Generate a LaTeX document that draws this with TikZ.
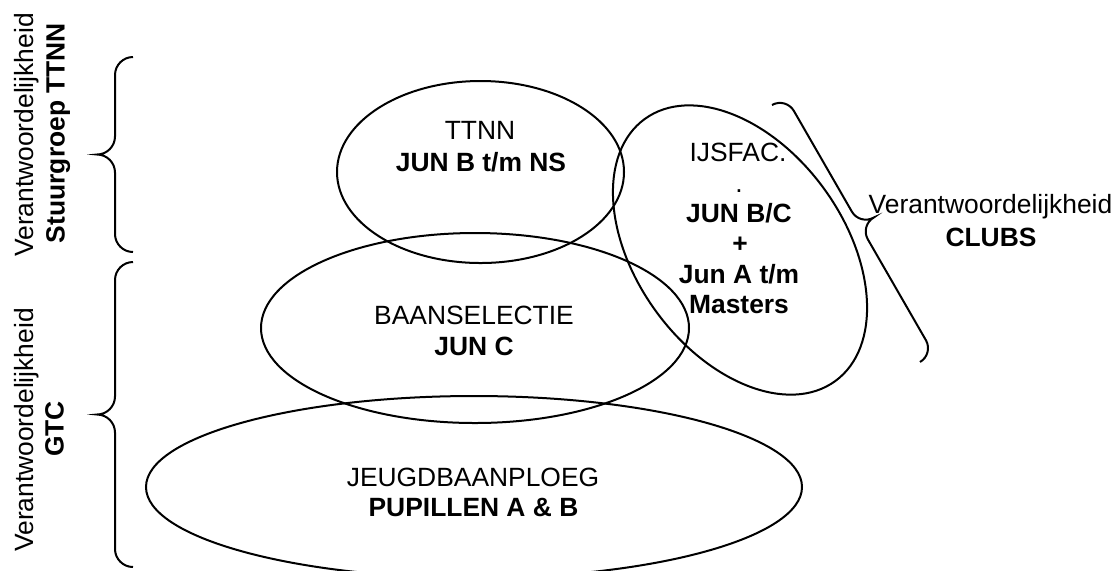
\documentclass[tikz,border=0pt]{standalone}
\usepackage{fontspec}
\setmainfont{Liberation Sans}
\newcommand{\drawbrace}[2]{%
  \draw (-#1,0) .. controls (-#1,{0.55*#2}) and ({-#1+0.45*#2},#2) .. ({-#1+#2},#2)
    -- (-#2,#2) .. controls ({-0.45*#2},#2) and (0,{1.45*#2}) .. (0,{2*#2})
    .. controls (0,{1.45*#2}) and ({0.45*#2},#2) .. (#2,#2)
    -- ({#1-#2},#2) .. controls ({#1-0.45*#2},#2) and (#1,{0.55*#2}) .. (#1,0);}
\begin{document}
\begin{tikzpicture}[x=0.5pt,y=-0.5pt,line width=1pt,
  lbl/.style={inner sep=0pt,anchor=base,font=\fontsize{13.2pt}{15.5pt}\selectfont},
  lblb/.style={inner sep=0pt,anchor=base,font=\fontsize{13.2pt}{15.5pt}\selectfont\bfseries},
  ring/.style={draw=black,line width=1pt}]
\clip (0,0) rectangle (1118,570);
\fill[white] (0,0) rectangle (1118,570);

% ellipses
\draw[ring] (474,487) ellipse [x radius=328, y radius=91];
\draw[ring] (475,328) ellipse [x radius=214, y radius=95];
\draw[ring] (480.5,172) ellipse [x radius=143.5, y radius=91];
\draw[ring, rotate around={-54:(740,250)}] (740,250) ellipse [x radius=162, y radius=104];

% texts in ellipses
\node[lbl]  (ttnn)  at (480,139.5) {TTNN};
\node[lblb] (ttnnb) at (481,171.5) {JUN B t/m NS};
\node[lbl]  (baan)  at (474,324) {BAANSELECTIE};
\node[lblb] (baanb) at (474,355) {JUN C};
\node[lbl]  (jeugd) at (473,486) {JEUGDBAANPLOEG};
\node[lblb] (jeugdb) at (473.5,516.5) {PUPILLEN A \& B};
\node[lbl]  (ijs)   at (738,161) {IJSFAC.};
\node[lbl]  (ijsdot) at (739,192) {.};
\node[lblb] (ijs1)  at (739,222) {JUN B/C};
\node[lblb] (ijs2)  at (740,252) {+};
\node[lblb] (ijs3)  at (739,283) {Jun A t/m};
\node[lblb] (ijs4)  at (739,313) {Masters};

% side texts
\node[lbl,rotate=90]  (v1) at (33,135) {Verantwoordelijkheid};
\node[lblb,rotate=90] (v1b) at (64.5,133) {Stuurgroep TTNN};
\node[lbl,rotate=90]  (v2) at (33,430) {Verantwoordelijkheid};
\node[lblb,rotate=90] (v2b) at (63.5,429) {GTC};
\node[lbl]  (v3) at (990.5,213) {Verantwoordelijkheid};
\node[lblb] (v3b) at (991,246) {CLUBS};

% braces
\begin{scope}[shift={(133,154.5)},x={(0pt,-0.5pt)},y={(-0.5pt,0pt)}]
  \drawbrace{97.5}{18}
\end{scope}
\begin{scope}[shift={(133,414.5)},x={(0pt,-0.5pt)},y={(-0.5pt,0pt)}]
  \drawbrace{152.5}{18}
\end{scope}
\begin{scope}[shift={(846,233.5)},x={(0.2495pt,-0.43325pt)},y={(0.43325pt,0.2495pt)}]
  \drawbrace{148.3}{16}
\end{scope}
\end{tikzpicture}
\end{document}
